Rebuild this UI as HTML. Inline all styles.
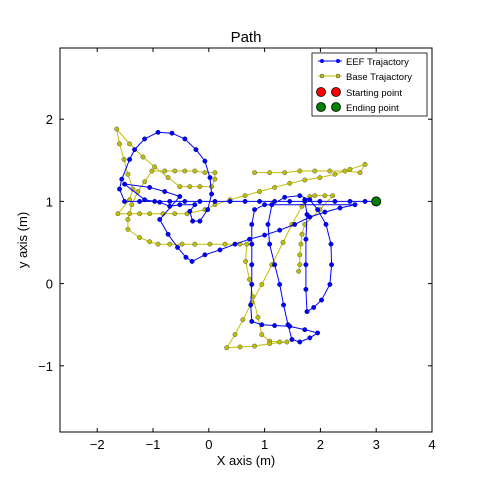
<!DOCTYPE html>
<html><head><meta charset="utf-8"><style>
body{margin:0;background:#fff;}
svg{display:block;font-family:"Liberation Sans",sans-serif;}
</style></head><body>
<svg id="chart" width="480" height="480" viewBox="0 0 480 480">
<rect x="0" y="0" width="480" height="480" fill="#fff"/>
<text x="246" y="42" font-size="15" text-anchor="middle">Path</text>
<text x="246" y="465" font-size="13" text-anchor="middle">X axis (m)</text>
<text x="0" y="0" font-size="13" text-anchor="middle" transform="translate(27,240) rotate(-90)">y axis (m)</text>
<defs><clipPath id="clip"><rect x="60" y="48" width="372" height="384"/></clipPath></defs>
<g id="ticks"></g>
<g id="series" clip-path="url(#clip)"></g>
<rect x="60" y="48" width="372" height="384" fill="none" stroke="#000" stroke-width="1"/>
<g>
<rect x="312" y="53" width="115" height="63" fill="#fff" stroke="#000" stroke-width="0.8"/>
<g>
<line x1="318" y1="61" x2="342" y2="61" stroke="#0000ff" stroke-width="1"/>
<circle cx="322" cy="61" r="2" fill="#0000ff"/><circle cx="338" cy="61" r="2" fill="#0000ff"/>
<text x="346" y="65" font-size="9.5">EEF Trajactory</text></g>
<g>
<line x1="318" y1="76" x2="342" y2="76" stroke="#bfbf00" stroke-width="1"/>
<circle cx="322" cy="76" r="2" fill="#bfbf00" stroke="#444" stroke-width="0.5"/><circle cx="338" cy="76" r="2" fill="#bfbf00" stroke="#444" stroke-width="0.5"/>
<text x="346" y="80" font-size="9.5">Base Trajactory</text></g>
<g>
<circle cx="321" cy="92" r="4.5" fill="#ff0000" stroke="#000" stroke-width="0.8"/><circle cx="336" cy="92" r="4.5" fill="#ff0000" stroke="#000" stroke-width="0.8"/>
<text x="346" y="96" font-size="9.5">Starting point</text></g>
<g>
<circle cx="321" cy="107" r="4.5" fill="#008000" stroke="#000" stroke-width="0.8"/><circle cx="336" cy="107" r="4.5" fill="#008000" stroke="#000" stroke-width="0.8"/>
<text x="346" y="111" font-size="9.5">Ending point</text></g>
</g>
</svg>
<script>
const xTicks=[-2,-1,0,1,2,3,4];
const xTickLabels=["\u22122","\u22121","0","1","2","3","4"];
const yTicks=[-1,0,1,2];
const yTickLabels=["\u22121","0","1","2"];
const eefX=[3.0,2.80,2.53,2.26,1.99,1.72,1.45,1.18,0.91,0.65,0.38,0.11,-0.16,-0.43,-0.70,-0.97,-1.24,-1.51,-1.60,-1.56,-1.42,-1.33,-1.15,-0.91,-0.66,-0.43,-0.23,-0.07,0.02,0.05,-0.02,-0.16,-0.29,-0.34,-0.25,-0.52,-0.70,-0.88,-1.15,-1.51,-1.06,-0.79,-0.52,-0.88,-0.73,-0.56,-0.41,-0.30,-0.07,0.20,0.47,0.73,1.00,1.27,1.54,1.81,2.08,2.35,2.62,1.00,0.82,0.77,0.77,0.77,0.77,0.75,0.77,0.95,1.18,1.45,1.72,1.95,1.81,1.63,1.49,1.42,1.34,1.27,1.18,1.09,1.06,1.13,1.36,1.63,1.81,1.95,2.10,2.19,2.20,2.17,2.02,1.88,1.76,1.74,1.74,1.74,1.76,1.72];
const eefY=[1.0,1.0,1.0,1.0,1.0,1.0,1.0,1.0,1.0,1.0,1.0,1.0,1.0,1.0,1.0,1.0,1.0,1.0,1.15,1.27,1.51,1.63,1.76,1.84,1.83,1.76,1.63,1.49,1.29,1.09,0.90,0.76,0.76,0.88,0.96,0.96,0.94,0.99,1.02,1.21,1.17,1.12,1.06,0.78,0.60,0.44,0.32,0.27,0.35,0.41,0.48,0.54,0.59,0.65,0.72,0.81,0.87,0.92,0.96,0.96,0.90,0.72,0.48,0.23,-0.01,-0.26,-0.46,-0.50,-0.51,-0.52,-0.56,-0.60,-0.66,-0.71,-0.68,-0.50,-0.26,-0.01,0.23,0.48,0.72,0.96,1.05,1.07,1.02,0.90,0.72,0.48,0.23,-0.01,-0.20,-0.29,-0.34,-0.07,0.23,0.54,0.84,1.02];
const baseX=[0.82,1.09,1.36,1.63,1.90,2.17,2.44,2.71,2.80,2.53,2.26,1.99,1.72,1.45,1.18,0.91,0.65,0.38,0.11,-0.07,-0.39,-0.61,-0.82,-1.06,-1.24,-1.42,-1.63,-1.42,-1.36,-1.45,-1.52,-1.60,-1.65,-1.42,-1.18,-0.97,-0.73,-0.52,-0.34,-0.16,0.05,0.11,0.11,-0.07,-0.25,-0.43,-0.61,-0.79,-1.02,-1.15,-1.27,-1.38,-1.45,-1.45,-1.24,-1.06,-0.91,-0.70,-0.48,-0.25,0.02,0.29,0.56,0.68,0.66,0.73,0.79,0.88,0.95,1.09,1.27,1.40,1.09,0.82,0.56,0.32,0.47,0.61,0.77,0.95,1.13,1.33,1.49,1.67,1.81,1.90,2.08,2.22,1.99,1.72,1.67,1.65,1.63,1.63,1.61];
const baseY=[1.35,1.35,1.35,1.37,1.37,1.37,1.37,1.35,1.45,1.39,1.33,1.29,1.26,1.22,1.17,1.12,1.07,1.02,0.96,0.90,0.85,0.85,0.85,0.85,0.85,0.85,0.85,1.02,1.15,1.33,1.51,1.70,1.88,1.70,1.54,1.42,1.29,1.18,1.18,1.18,1.18,1.27,1.35,1.35,1.37,1.37,1.37,1.37,1.37,1.24,1.12,0.96,0.78,0.66,0.56,0.51,0.48,0.48,0.48,0.48,0.48,0.48,0.48,0.48,0.27,0.05,-0.16,-0.41,-0.62,-0.70,-0.71,-0.71,-0.73,-0.76,-0.77,-0.78,-0.62,-0.44,-0.23,-0.01,0.23,0.50,0.72,0.94,1.06,1.07,1.07,1.07,0.90,0.72,0.60,0.48,0.35,0.23,0.15];
const startPoint=[3.0,1.0];
const endPoint=[3.0,1.0];

const NS="http://www.w3.org/2000/svg";
const X0=60,X1=432,Y0=48,Y1=432,XMIN=-2.667,XMAX=4,YMIN=-1.805,YMAX=2.866;
function sx(v){return X0+(v-XMIN)/(XMAX-XMIN)*(X1-X0);}
function sy(v){return Y1-(v-YMIN)/(YMAX-YMIN)*(Y1-Y0);}
function mk(tag,attrs,parent){const e=document.createElementNS(NS,tag);for(const k in attrs)e.setAttribute(k,attrs[k]);parent.appendChild(e);return e;}
const tg=document.getElementById('ticks');
xTicks.forEach((v,i)=>{
  const x=sx(v);
  const t1=mk('line',{x1:x,y1:Y1,x2:x,y2:Y1-4,stroke:'#000'},tg);
  
  
  mk('line',{x1:x,y1:Y0,x2:x,y2:Y0+4,stroke:'#000'},tg);
  const t=mk('text',{x:x,y:Y1+17,'font-size':13,'text-anchor':'middle'},tg);
  t.textContent=xTickLabels[i];
  
  
});
yTicks.forEach((v,i)=>{
  const y=sy(v);
  const t1=mk('line',{x1:X0,y1:y,x2:X0+4,y2:y,stroke:'#000'},tg);
  
  
  mk('line',{x1:X1,y1:y,x2:X1-4,y2:y,stroke:'#000'},tg);
  const t=mk('text',{x:X0-7,y:y+5,'font-size':13,'text-anchor':'end'},tg);
  t.textContent=yTickLabels[i];
  
  
});
const sg=document.getElementById('series');
function drawSeries(xs,ys,color,edge,name){
  const g=mk('g',{},sg);
  
  
  const pts=xs.map((v,i)=>sx(v).toFixed(1)+','+sy(ys[i]).toFixed(1)).join(' ');
  const pl=mk('polyline',{points:pts,fill:'none',stroke:color,'stroke-width':1},g);
  
  
  xs.forEach((v,i)=>{
    const c=mk('circle',{cx:sx(v),cy:sy(ys[i]),r:2.2,fill:color,stroke:edge,'stroke-width':0.5},g);
    
    
  });
}
drawSeries(baseX,baseY,'#bfbf00','#555','base-trajectory');
drawSeries(eefX,eefY,'#0000ff','#000080','eef-trajectory');
const sp=mk('circle',{cx:sx(startPoint[0]),cy:sy(startPoint[1]),r:4.5,fill:'#ff0000',stroke:'#000','stroke-width':0.8},sg);


const ep=mk('circle',{cx:sx(endPoint[0]),cy:sy(endPoint[1]),r:4.5,fill:'#008000',stroke:'#000','stroke-width':0.8},sg);


</script>
</body></html>
